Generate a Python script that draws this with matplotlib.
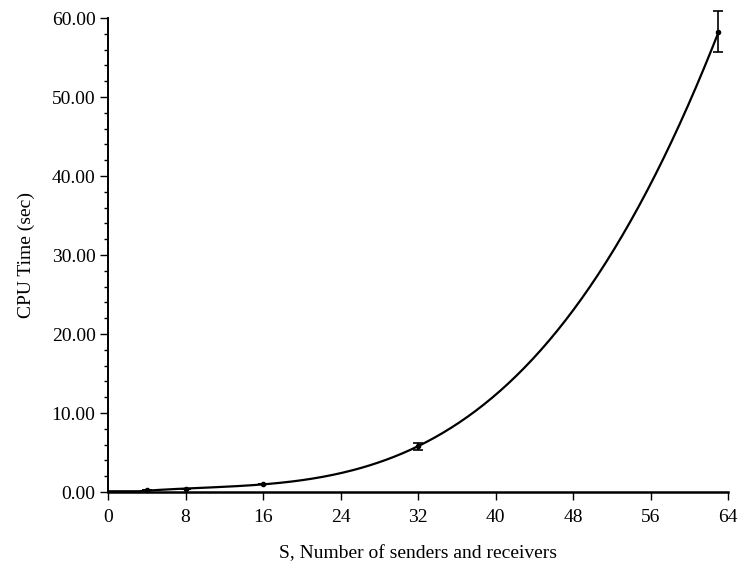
import matplotlib
matplotlib.use("Agg")
import matplotlib.pyplot as plt
from matplotlib.ticker import MultipleLocator, FormatStrFormatter
import numpy as np

plt.rcParams['font.family'] = ['Liberation Serif', 'DejaVu Serif']

# measured points
senders = [4, 8, 16, 32, 63]
cpu_time = [0.2, 0.4, 1.0, 5.8, 58.2]
err_low = [0.0, 0.0, 0.0, 0.45, 2.5]
err_high = [0.0, 0.0, 0.0, 0.45, 2.7]

x_ticks = [0, 8, 16, 24, 32, 40, 48, 56, 64]

# smooth fitted curve through the measurements
coef = np.polyfit(senders, cpu_time, 3)
xs = np.linspace(0, senders[-1], 300)
ys = np.clip(np.polyval(coef, xs), 0.1, None)

fig = plt.figure(figsize=(7.4, 5.63), dpi=100)
ax = fig.add_axes([0.146, 0.126, 0.838, 0.842])

ax.plot(xs, ys, color='black', lw=1.6)
ax.errorbar(senders, cpu_time, yerr=[err_low, err_high], fmt='o', ms=3,
            color='black', ecolor='black', elinewidth=1.2, capsize=3.5,
            capthick=1.2, clip_on=False)

ax.set_xlim(0, 64)
ax.set_ylim(0, 60)
ax.set_xticks(x_ticks)
ax.yaxis.set_major_locator(MultipleLocator(10))
ax.yaxis.set_minor_locator(MultipleLocator(2))
ax.yaxis.set_major_formatter(FormatStrFormatter('%.2f'))

for s in ['top', 'right']:
    ax.spines[s].set_visible(False)
ax.spines['bottom'].set_linewidth(1.8)
ax.spines['left'].set_linewidth(1.4)

ax.tick_params(axis='both', direction='out', labelsize=14, width=1, length=6, pad=3)
ax.tick_params(axis='x', pad=6)
ax.tick_params(axis='y', which='minor', direction='out', length=3, width=1)

ax.set_xlabel('S, Number of senders and receivers', fontsize=14, labelpad=14)
ax.set_ylabel('CPU Time (sec)', fontsize=14, labelpad=12)

fig.savefig('out.png', dpi=100)
